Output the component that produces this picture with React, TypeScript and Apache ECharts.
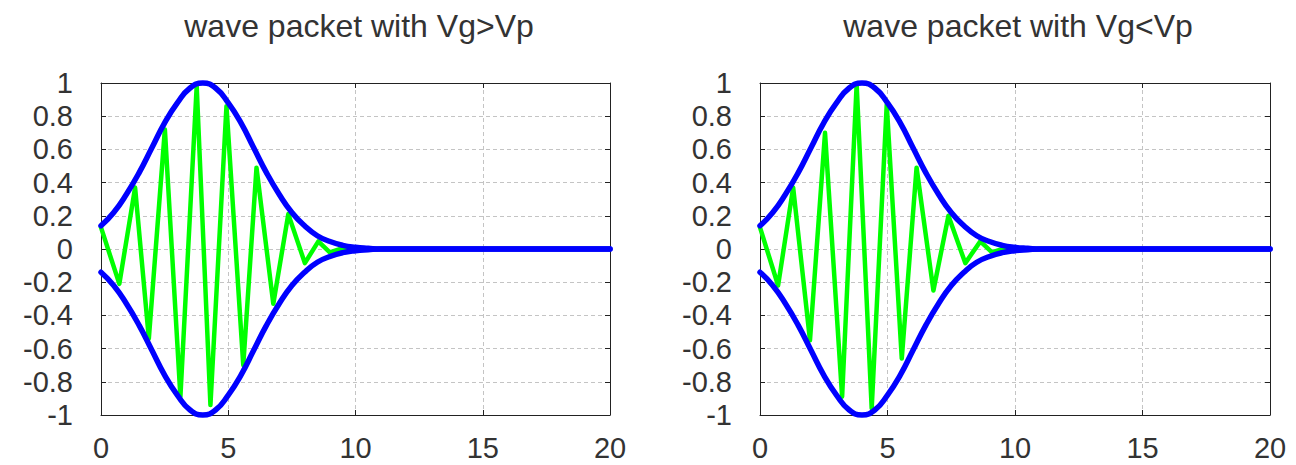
import React, { useEffect, useRef } from "react";
import * as echarts from "echarts";

// Envelope of the packet (same in both panels)
const envX = [0, 0.5, 1, 1.5, 2, 2.5, 3, 3.5, 4, 4.5, 5, 5.5, 6, 6.5, 7, 7.5, 8, 8.5, 9, 9.5, 10, 10.5, 11, 20];
const envUpper = [0.14, 0.22, 0.33, 0.46, 0.61, 0.76, 0.88, 0.97, 1.0, 0.97, 0.88, 0.76, 0.61, 0.46, 0.33, 0.22, 0.14, 0.08, 0.045, 0.022, 0.01, 0.004, 0, 0];
const envLower = [-0.14, -0.22, -0.33, -0.46, -0.61, -0.76, -0.88, -0.97, -1.0, -0.97, -0.88, -0.76, -0.61, -0.46, -0.33, -0.22, -0.14, -0.08, -0.045, -0.022, -0.01, -0.004, 0, 0];

// Carrier wave, left panel (Vg>Vp): turning points
const waveXLeft = [0, 0.72, 1.34, 1.88, 2.51, 3.12, 3.76, 4.3, 4.93, 5.59, 6.11, 6.77, 7.36, 8.01, 8.54, 8.99, 9.5, 10, 20];
const waveYLeft = [0.13, -0.21, 0.37, -0.54, 0.72, -0.89, 0.98, -0.94, 0.86, -0.7, 0.49, -0.33, 0.21, -0.085, 0.046, -0.02, 0.005, 0, 0];

// Carrier wave, right panel (Vg<Vp): turning points
const waveXRight = [0, 0.71, 1.3, 1.96, 2.55, 3.22, 3.79, 4.38, 4.97, 5.56, 6.14, 6.8, 7.39, 8.05, 8.64, 9.1, 9.6, 10, 20];
const waveYRight = [0.13, -0.22, 0.37, -0.55, 0.7, -0.89, 0.99, -0.96, 0.87, -0.66, 0.49, -0.25, 0.2, -0.085, 0.046, -0.02, 0.005, 0, 0];

const titles = ["wave packet with Vg>Vp", "wave packet with Vg<Vp"];
const xTickLabels = ["0", "5", "10", "15", "20"];
const yTickLabels = ["-1", "-0.8", "-0.6", "-0.4", "-0.2", "0", "0.2", "0.4", "0.6", "0.8", "1"];

const FONT = "Liberation Sans";
const TEXT = "#333";

function pairs(xs: number[], ys: number[]) {
  return xs.map((x, i) => [x, ys[i]]);
}

export default function App() {
  const ref = useRef<HTMLDivElement>(null);
  useEffect(() => {
    if (!ref.current) return;
    const chart = echarts.init(ref.current, undefined, { renderer: "svg" });

    const grids = [
      { left: 101, top: 83, width: 509, height: 332 },
      { left: 760, top: 83, width: 510, height: 332 },
    ];

    const gridLine = { show: true, lineStyle: { color: "#c4c4c4", width: 1, type: [4, 3] as any } };
    const boxLine = { show: true, onZero: false, lineStyle: { color: "#222", width: 1 } };
    const tick = { show: true, inside: true, length: 5, lineStyle: { color: "#222", width: 1 } };

    const xAxes: any[] = [];
    const yAxes: any[] = [];
    grids.forEach((_, gi) => {
      xAxes.push({
        type: "value", gridIndex: gi, position: "bottom", min: 0, max: 20, interval: 5,
        axisLine: boxLine, axisTick: tick, splitLine: gridLine,
        axisLabel: {
          show: true, margin: 18, color: TEXT, fontFamily: FONT, fontSize: 29,
          formatter: (v: number) => xTickLabels[Math.round(v / 5)] ?? String(v),
        },
      });
      xAxes.push({
        type: "value", gridIndex: gi, position: "top", min: 0, max: 20, interval: 5,
        axisLine: boxLine, axisTick: tick, splitLine: { show: false }, axisLabel: { show: false },
      });
      yAxes.push({
        type: "value", gridIndex: gi, position: "left", min: -1, max: 1, interval: 0.2,
        axisLine: boxLine, axisTick: tick, splitLine: gridLine,
        axisLabel: {
          show: true, margin: 28, color: TEXT, fontFamily: FONT, fontSize: 29,
          formatter: (v: number) => yTickLabels[Math.round((v + 1) / 0.2)] ?? String(v),
        },
      });
      yAxes.push({
        type: "value", gridIndex: gi, position: "right", min: -1, max: 1, interval: 0.2,
        axisLine: boxLine, axisTick: tick, splitLine: { show: false }, axisLabel: { show: false },
      });
    });

    const mk = (gi: number, data: number[][], color: string, width: number, smooth: boolean, z: number) => ({
      type: "line",
      xAxisIndex: gi * 2,
      yAxisIndex: gi * 2,
      data,
      smooth,
      showSymbol: false,
      symbol: "none",
      clip: false,
      z,
      lineStyle: { color, width, cap: "round", join: "round" },
    });

    chart.setOption({
      animation: false,
      backgroundColor: "#ffffff",
      title: [
        { text: titles[0], left: 354, top: 5, textAlign: "center", textStyle: { fontFamily: FONT, fontSize: 32, fontWeight: "normal", color: TEXT } },
        { text: titles[1], left: 1013, top: 5, textAlign: "center", textStyle: { fontFamily: FONT, fontSize: 32, fontWeight: "normal", color: TEXT } },
      ],
      grid: grids,
      xAxis: xAxes,
      yAxis: yAxes,
      series: [
        mk(0, pairs(waveXLeft, waveYLeft), "#00ff00", 4.5, false, 2),
        mk(0, pairs(envX, envUpper), "#0000ff", 5.5, true, 3),
        mk(0, pairs(envX, envLower), "#0000ff", 5.5, true, 3),
        mk(1, pairs(waveXRight, waveYRight), "#00ff00", 4.5, false, 2),
        mk(1, pairs(envX, envUpper), "#0000ff", 5.5, true, 3),
        mk(1, pairs(envX, envLower), "#0000ff", 5.5, true, 3),
      ],
    });
    return () => chart.dispose();
  }, []);

  return (
    <div
      ref={ref}
      style={{ position: "fixed", left: 0, top: 0, width: 1296, height: 465, background: "#fff" }}
    />
  );
}
